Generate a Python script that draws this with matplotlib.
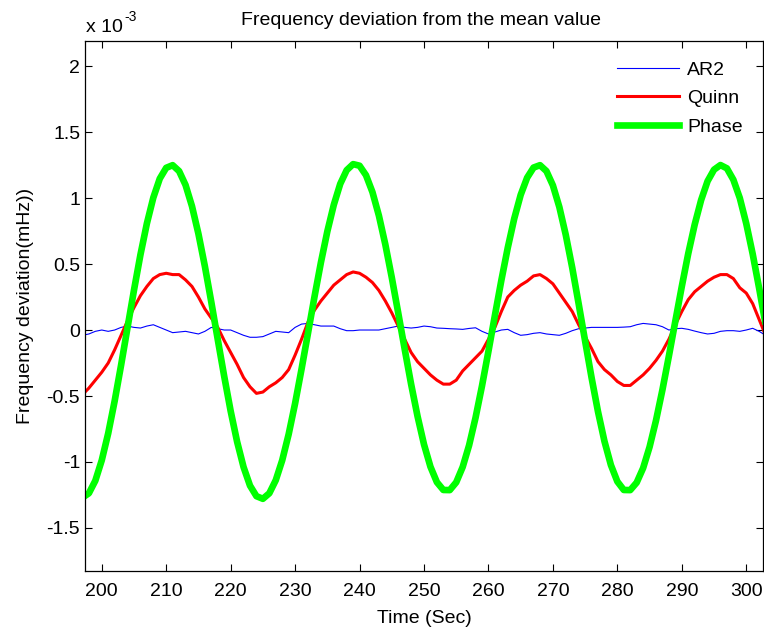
import numpy as np
import matplotlib
matplotlib.use("Agg")
import matplotlib.pyplot as plt

plt.rcParams['font.family'] = ['Liberation Sans', 'DejaVu Sans']
plt.rcParams['axes.unicode_minus'] = False

# time axis (s)
time = list(range(197, 304))

# values in units of 1e-3
ar2 = [-0.04, -0.03, -0.01, 0.00, -0.01, 0.00, 0.02, 0.03, 0.02, 0.015,
       0.03, 0.04, 0.02, 0.00, -0.02, -0.015, -0.01, -0.02, -0.03, -0.01,
       0.02, 0.01, 0.00, 0.00, -0.02, -0.04, -0.055, -0.055, -0.05, -0.03,
       -0.01, -0.015, -0.02, 0.02, 0.045, 0.05, 0.04, 0.03, 0.03, 0.03,
       0.01, -0.005, -0.005, 0.00, 0.00, 0.00, 0.00, 0.01, 0.02, 0.03,
       0.02, 0.015, 0.02, 0.03, 0.025, 0.015, 0.013, 0.01, 0.008, 0.005,
       0.012, 0.017, -0.01, -0.03, -0.015, 0.00, 0.005, -0.02, -0.04, -0.035,
       -0.025, -0.02, -0.03, -0.035, -0.04, -0.025, -0.005, 0.01, 0.015, 0.02,
       0.02, 0.02, 0.02, 0.02, 0.022, 0.025, 0.04, 0.05, 0.045, 0.04,
       0.025, 0.00, 0.01, 0.013, 0.005, -0.008, -0.02, -0.03, -0.025, -0.01,
       -0.005, -0.005, -0.01, 0.00, 0.013, -0.01, -0.04]

quinn = [-0.49, -0.44, -0.38, -0.32, -0.25, -0.15, -0.04, 0.07, 0.17, 0.26,
         0.33, 0.39, 0.42, 0.43, 0.42, 0.42, 0.38, 0.33, 0.25, 0.16,
         0.09, 0.02, -0.08, -0.17, -0.26, -0.36, -0.43, -0.48, -0.47, -0.43,
         -0.40, -0.36, -0.30, -0.19, -0.07, 0.06, 0.15, 0.22, 0.28, 0.34,
         0.38, 0.42, 0.44, 0.43, 0.40, 0.36, 0.30, 0.22, 0.13, 0.03,
         -0.07, -0.17, -0.24, -0.29, -0.34, -0.38, -0.41, -0.41, -0.38, -0.31,
         -0.26, -0.21, -0.16, -0.07, 0.02, 0.14, 0.25, 0.30, 0.34, 0.37,
         0.41, 0.42, 0.39, 0.35, 0.28, 0.21, 0.14, 0.04, -0.05, -0.14,
         -0.24, -0.30, -0.34, -0.39, -0.42, -0.42, -0.38, -0.34, -0.29, -0.23,
         -0.16, -0.07, 0.04, 0.14, 0.23, 0.29, 0.33, 0.37, 0.40, 0.42,
         0.42, 0.39, 0.32, 0.28, 0.20, 0.08, -0.04]

phase = [-1.27, -1.237, -1.142, -0.987, -0.783, -0.538, -0.266, 0.019, 0.302, 0.570,
         0.807, 1.003, 1.147, 1.229, 1.249, 1.204, 1.099, 0.938, 0.729, 0.483,
         0.211, -0.072, -0.351, -0.614, -0.846, -1.038, -1.179, -1.259, -1.279, -1.237,
         -1.138, -0.987, -0.790, -0.556, -0.296, -0.024, 0.250, 0.511, 0.747, 0.948,
         1.107, 1.211, 1.257, 1.245, 1.173, 1.045, 0.867, 0.648, 0.398, 0.130,
         -0.144, -0.410, -0.654, -0.867, -1.036, -1.153, -1.212, -1.213, -1.154, -1.038,
         -0.873, -0.664, -0.423, -0.161, 0.110, 0.376, 0.624, 0.844, 1.024, 1.154,
         1.231, 1.249, 1.204, 1.096, 0.932, 0.720, 0.472, 0.198, -0.084, -0.361,
         -0.619, -0.843, -1.023, -1.148, -1.212, -1.213, -1.156, -1.046, -0.886, -0.685,
         -0.452, -0.197, 0.068, 0.330, 0.579, 0.799, 0.985, 1.128, 1.215, 1.250,
         1.225, 1.139, 1.000, 0.807, 0.576, 0.317, 0.043]

series_names = ['AR2', 'Quinn', 'Phase']
xticks = [200, 210, 220, 230, 240, 250, 260, 270, 280, 290, 300]
yticks = [-1.5, -1, -0.5, 0, 0.5, 1, 1.5, 2]
ytick_labels = ['-1.5', '-1', '-0.5', '0', '0.5', '1', '1.5', '2']

W, H = 764, 629
fig = plt.figure(figsize=(W / 100, H / 100), dpi=100)
ax = fig.add_axes([85 / W, 1 - 571 / H, (763 - 85) / W, (571 - 41) / H])

ax.plot(time, ar2, color='#0000ff', lw=0.8, label=series_names[0])
ax.plot(time, quinn, color='#ff0000', lw=2.2, label=series_names[1])
ax.plot(time, phase, color='#00ff00', lw=4.8, label=series_names[2])

ax.set_xlim(197.4, 302.6)
ax.set_ylim(-1.826, 2.19)
ax.set_xticks(xticks)
ax.set_yticks(yticks)
ax.set_yticklabels(ytick_labels)

for s in ax.spines.values():
    s.set_linewidth(0.9)
ax.tick_params(direction='in', top=True, right=True, length=5, width=0.8,
               labelsize=14, colors='black')
ax.tick_params(axis='x', pad=9)
ax.tick_params(axis='y', pad=3.5)

ax.set_xlabel('Time (Sec)', fontsize=14, labelpad=7)
ax.set_ylabel('Frequency deviation(mHz))', fontsize=14, labelpad=9)

fig.text(421 / W, 1 - 25 / H, 'Frequency deviation from the mean value',
         ha='center', va='baseline', fontsize=14)
fig.text(86 / W, 1 - 32 / H, 'x 10', ha='left', va='baseline', fontsize=14)
fig.text(124 / W, 1 - 21 / H, '-3', ha='left', va='baseline', fontsize=10)

leg = ax.legend(loc='upper left', bbox_to_anchor=(617 / W, 1 - 61 / H),
                bbox_transform=fig.transFigure, frameon=False, fontsize=14,
                handlelength=3.2, handletextpad=0.4, labelspacing=0.57,
                borderpad=0, borderaxespad=0)

fig.savefig('out.png', dpi=100)
